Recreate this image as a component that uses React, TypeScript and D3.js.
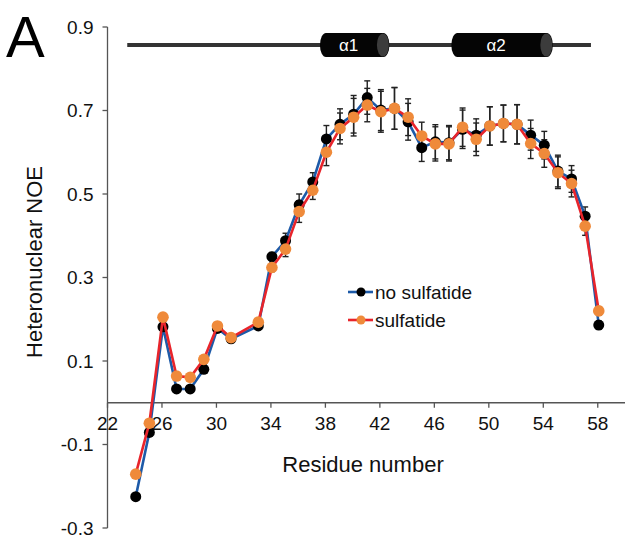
import React from "react";
import * as d3 from "d3";

const residues = [24, 25, 26, 27, 28, 29, 30, 31, 33, 34, 35, 36, 37, 38, 39, 40, 41, 42, 43, 44, 45, 46, 47, 48, 49, 50, 51, 52, 53, 54, 55, 56, 57, 58];
const noSulfatide = [-0.225, -0.071, 0.182, 0.033, 0.033, 0.08, 0.178, 0.153, 0.184, 0.35, 0.388, 0.474, 0.529, 0.632, 0.667, 0.691, 0.731, 0.701, 0.705, 0.673, 0.611, 0.625, 0.623, 0.655, 0.641, 0.663, 0.669, 0.667, 0.641, 0.617, 0.555, 0.536, 0.447, 0.186];
const sulfatide = [-0.171, -0.049, 0.205, 0.064, 0.061, 0.104, 0.184, 0.156, 0.193, 0.324, 0.368, 0.458, 0.509, 0.6, 0.657, 0.684, 0.713, 0.697, 0.705, 0.684, 0.639, 0.62, 0.62, 0.66, 0.631, 0.663, 0.669, 0.667, 0.621, 0.597, 0.551, 0.525, 0.423, 0.22];
const errNoSulfatide = [0.006, 0.006, 0.008, 0.005, 0.005, 0.006, 0.008, 0.006, 0.006, 0.01, 0.018, 0.026, 0.022, 0.032, 0.037, 0.045, 0.04, 0.049, 0.05, 0.044, 0.033, 0.041, 0.041, 0.046, 0.039, 0.046, 0.044, 0.047, 0.036, 0.033, 0.038, 0.032, 0.022, 0.01];
const errSulfatide = [0.006, 0.006, 0.008, 0.005, 0.005, 0.006, 0.008, 0.006, 0.006, 0.01, 0.018, 0.026, 0.022, 0.032, 0.037, 0.045, 0.04, 0.049, 0.05, 0.044, 0.033, 0.041, 0.041, 0.046, 0.039, 0.046, 0.044, 0.047, 0.036, 0.033, 0.038, 0.032, 0.022, 0.01];
const xTicks = [22, 26, 30, 34, 38, 42, 46, 50, 54, 58];
const yTicks = [-0.3, -0.1, 0.1, 0.3, 0.5, 0.7, 0.9];
const structureSpan = [23.45, 57.5];
const helixLabels = ["α1", "α2"];
const helixStarts = [37.6, 47.25];
const helixEnds = [42.7, 54.7];

const FONT = "'Liberation Sans', Arial, Helvetica, sans-serif";
const BLUE = "#1d5aa8";
const RED = "#e8242b";
const ORANGE = "#ef8a3a";

export default function App() {
  const x = d3.scaleLinear().domain([22, 60]).range([107.5, 625]);
  const y = d3.scaleLinear().domain([-0.3, 0.9]).range([528, 27]);
  const y0 = y(0);
  const x0 = x(22);

  const dataN = residues.map((r, i) => ({ r, v: noSulfatide[i], e: errNoSulfatide[i] }));
  const dataS = residues.map((r, i) => ({ r, v: sulfatide[i], e: errSulfatide[i] }));
  const line = d3
    .line<{ r: number; v: number }>()
    .x((d) => x(d.r) + 1)
    .y((d) => y(d.v));

  const errBars = (data: { r: number; v: number; e: number }[], key: string) =>
    data.map((d, i) => {
      const cx = x(d.r) + 1;
      const top = y(d.v + d.e);
      const bot = y(d.v - d.e);
      return (
        <g key={key + i} stroke="#222" strokeWidth={1.4}>
          <line x1={cx} x2={cx} y1={top} y2={bot} />
          <line x1={cx - 3} x2={cx + 3} y1={top} y2={top} />
          <line x1={cx - 3} x2={cx + 3} y1={bot} y2={bot} />
        </g>
      );
    });

  const structY = 45;
  const cylH = 24;

  return (
    <svg
      width={627}
      height={540}
      style={{ position: "absolute", left: 0, top: 0, display: "block", background: "#fff" }}
      fontFamily={FONT}
    >
      {/* Panel letter */}
      <text x={6} y={57} fontSize={58} fill="#000">A</text>

      {/* Secondary structure */}
      <line
        x1={x(structureSpan[0])}
        x2={x(structureSpan[1])}
        y1={structY}
        y2={structY}
        stroke="#333"
        strokeWidth={4}
      />
      {helixLabels.map((lab, i) => {
        const xs = x(helixStarts[i]);
        const xe = x(helixEnds[i]);
        return (
          <g key={lab}>
            <rect x={xs} y={structY - cylH / 2} width={xe - xs} height={cylH} rx={6} ry={12} fill="#050505" />
            <ellipse cx={xe - 6.5} cy={structY} rx={6} ry={cylH / 2 - 0.5} fill="#3c3c3c" />
            <text x={(xs + xe - 12) / 2} y={structY + 6} fontSize={17} fill="#fff" textAnchor="middle">
              {lab}
            </text>
          </g>
        );
      })}

      {/* Y axis */}
      <line x1={x0} x2={x0} y1={y(0.9)} y2={y(-0.3)} stroke="#555" strokeWidth={1.3} />
      {yTicks.map((t) => (
        <g key={"yt" + t}>
          <line x1={x0 - 5} x2={x0} y1={y(t)} y2={y(t)} stroke="#555" strokeWidth={1.3} />
          <text x={x0 - 14} y={y(t) + 6.5} fontSize={19} textAnchor="end" fill="#111">
            {t.toFixed(1)}
          </text>
        </g>
      ))}

      {/* X axis */}
      {xTicks.map((t) => (
        <g key={"xt" + t}>
          <line x1={x(t)} x2={x(t)} y1={y0} y2={y0 + 5} stroke="#555" strokeWidth={1.3} />
          <text x={x(t)} y={y0 + 27} fontSize={19} textAnchor="middle" fill="#111">
            {t}
          </text>
        </g>
      ))}
      <line x1={x0} x2={625} y1={y0} y2={y0} stroke="#555" strokeWidth={1.3} />

      {/* Axis titles */}
      <text x={363} y={472} fontSize={22} textAnchor="middle" fill="#111">
        Residue number
      </text>
      <text
        transform={`translate(42, 262) rotate(-90)`}
        fontSize={22}
        textAnchor="middle"
        fill="#111"
      >
        Heteronuclear NOE
      </text>

      {/* Error bars */}
      {errBars(dataN, "en")}
      {errBars(dataS, "es")}

      {/* No sulfatide */}
      <path d={line(dataN) || ""} fill="none" stroke={BLUE} strokeWidth={2.6} />
      {dataN.map((d, i) => (
        <circle key={"pn" + i} cx={x(d.r) + 1} cy={y(d.v)} r={5.5} fill="#000" />
      ))}

      {/* Sulfatide */}
      <path d={line(dataS) || ""} fill="none" stroke={RED} strokeWidth={2.6} />
      {dataS.map((d, i) => (
        <circle key={"ps" + i} cx={x(d.r) + 1} cy={y(d.v)} r={5.8} fill={ORANGE} />
      ))}

      {/* Legend */}
      <g>
        <line x1={348} x2={373} y1={292} y2={292} stroke={BLUE} strokeWidth={2.6} />
        <circle cx={361} cy={292} r={4.5} fill="#000" />
        <text x={375} y={298.5} fontSize={19} fill="#111">no sulfatide</text>
        <line x1={348} x2={373} y1={320} y2={320} stroke={RED} strokeWidth={2.6} />
        <circle cx={361} cy={320} r={4.5} fill={ORANGE} />
        <text x={375} y={326.5} fontSize={19} fill="#111">sulfatide</text>
      </g>
    </svg>
  );
}
